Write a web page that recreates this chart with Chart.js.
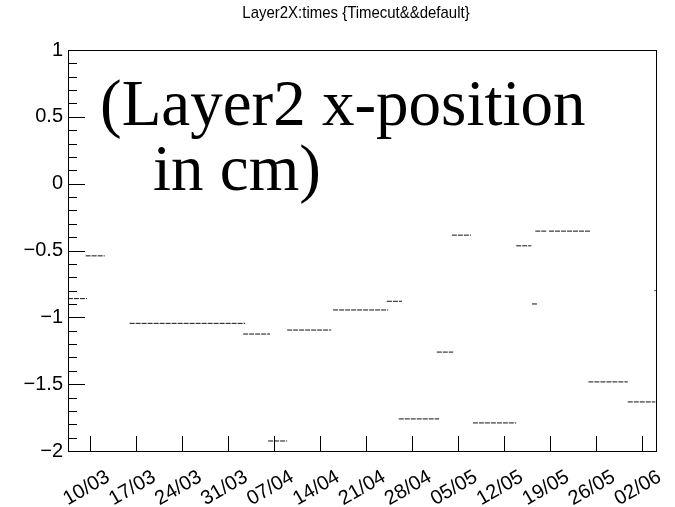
<!DOCTYPE html>
<html>
<head>
<meta charset="utf-8">
<script src="https://cdn.jsdelivr.net/npm/chart.js@4/dist/chart.umd.min.js"></script>
<style>
  html, body { margin: 0; padding: 0; background: #fff; }
  #wrap { width: 675px; height: 507px; position: relative; }
</style>
</head>
<body>
<div id="wrap"><canvas id="c"></canvas></div>
<script>
// x = days after 10/03
const xTickDays = [0, 7, 14, 21, 28, 35, 42, 49, 56, 63, 70, 77, 84];
const xTickLabels = ['10/03', '17/03', '24/03', '31/03', '07/04', '14/04', '21/04', '28/04', '05/05', '12/05', '19/05', '26/05', '02/06'];

// horizontal bands of points: start day, end day, x-position (cm)
const segStart = [-3.4, -0.7, 6.0, 23.3, 27.1, 30.0, 37.0, 45.2, 47.0, 52.8, 55.1, 58.3, 64.9, 67.3, 67.8, 69.9, 75.9, 81.9, 85.95];
const segEnd   = [-0.5, 2.2, 23.6, 27.4, 30.0, 36.7, 45.4, 47.5, 53.15, 55.3, 58.0, 64.9, 67.2, 68.1, 69.6, 76.2, 81.9, 86.1, 86.15];
const segY     = [-0.86, -0.54, -1.045, -1.125, -1.925, -1.095, -0.945, -0.88, -1.76, -1.26, -0.385, -1.79, -0.465, -0.9, -0.355, -0.355, -1.483, -1.633, -0.80];

const datasets = segY.map((y, i) => ({
  data: [{ x: segStart[i], y: y }, { x: segEnd[i], y: y }],
  borderColor: '#111',
  borderWidth: 1,
  borderDash: [5, 1],
  pointRadius: 0,
  fill: false
}));

const sans = '"Liberation Sans", Arial, sans-serif';
const serif = '"Liberation Serif", "Times New Roman", serif';

// ROOT style frame, ticks inside, rotated date labels, title and big caption
const rootStyle = {
  id: 'rootStyle',
  afterDraw(chart) {
    const ctx = chart.ctx;
    const a = chart.chartArea;
    const xs = chart.scales.x, ys = chart.scales.y;
    ctx.save();
    ctx.strokeStyle = '#000';
    ctx.lineWidth = 1;
    ctx.strokeRect(Math.round(a.left) + 0.5, Math.round(a.top) + 0.5, Math.round(a.right - a.left), Math.round(a.bottom - a.top));

    // y ticks
    ctx.beginPath();
    for (let k = -20; k <= 10; k++) {
      const py = Math.round(ys.getPixelForValue(k / 10)) + 0.5;
      const len = (k % 5 === 0) ? 17 : 9;
      ctx.moveTo(a.left, py);
      ctx.lineTo(a.left + len, py);
    }
    // x ticks
    xTickDays.forEach(d => {
      const px = Math.round(xs.getPixelForValue(d)) + 0.5;
      ctx.moveTo(px, a.bottom);
      ctx.lineTo(px, a.bottom - 15);
    });
    ctx.stroke();

    // x labels
    ctx.fillStyle = '#000';
    ctx.font = '20px ' + sans;
    ctx.textAlign = 'right';
    ctx.textBaseline = 'top';
    xTickDays.forEach((d, i) => {
      const px = xs.getPixelForValue(d);
      ctx.save();
      ctx.translate(px + 13, a.bottom + 16);
      ctx.rotate(-30 * Math.PI / 180);
      ctx.fillText(xTickLabels[i], 0, 0);
      ctx.restore();
    });

    // title
    ctx.save();
    ctx.textAlign = 'center';
    ctx.textBaseline = 'middle';
    ctx.font = '17px ' + sans;
    ctx.translate(356, 13);
    ctx.scale(0.88, 1);
    ctx.fillText('Layer2X:times {Timecut&&default}', 0, 0);
    ctx.restore();

    // caption
    ctx.textAlign = 'left';
    ctx.textBaseline = 'alphabetic';
    ctx.font = '65px ' + serif;
    ctx.fillText('(Layer2 x-position', 100, 125);
    ctx.fillText('in cm)', 153, 190);
    ctx.restore();
  }
};

new Chart(document.getElementById('c'), {
  type: 'line',
  data: { datasets },
  options: {
    responsive: true,
    maintainAspectRatio: false,
    animation: false,
    layout: { padding: { top: 50, right: 19, left: 0, bottom: 0 } },
    plugins: { legend: { display: false }, tooltip: { enabled: false }, title: { display: false } },
    scales: {
      x: {
        type: 'linear',
        min: -3.39,
        max: 86.2,
        grid: { display: false, drawTicks: false },
        border: { display: false },
        ticks: { display: false },
        afterBuildTicks: s => { s.ticks = xTickDays.map(v => ({ value: v })); },
        afterFit: s => { s.height = 56; }
      },
      y: {
        type: 'linear',
        min: -2,
        max: 1,
        grid: { display: false, drawTicks: false },
        border: { display: false },
        ticks: {
          stepSize: 0.5,
          padding: 5,
          color: '#000',
          font: { family: sans, size: 20 },
          callback: v => v < 0 ? '\u2212' + Math.abs(v) : String(v)
        },
        afterFit: s => { s.width = 68; }
      }
    }
  },
  plugins: [rootStyle]
});
</script>
</body>
</html>
